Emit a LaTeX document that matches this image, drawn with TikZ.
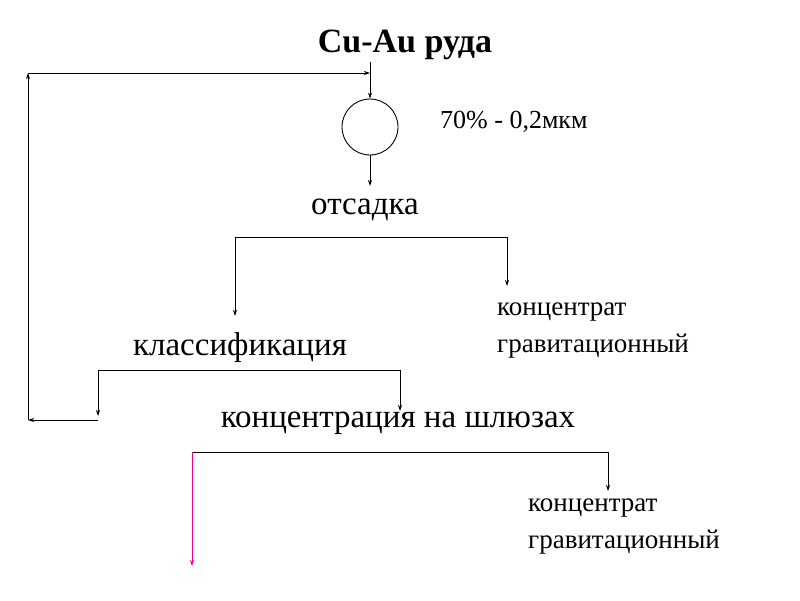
\documentclass[tikz,border=0pt]{standalone}
\usepackage{fontspec}
\setmainfont{Liberation Serif}
\usetikzlibrary{arrows.meta}
\begin{document}
\begin{tikzpicture}[x=1pt,y=-1pt,
  ln/.style={line width=0.9pt,-{Stealth[length=6pt,width=4pt]}},
  plain/.style={line width=0.9pt},
  big/.style={font=\rmfamily\fontsize{33}{38}\selectfont,inner sep=0pt},
  mid/.style={font=\rmfamily\fontsize{27}{37}\selectfont,inner sep=0pt,align=left,anchor=west}]
\useasboundingbox (0,0) rectangle (800,600);
\node[inner sep=0pt,font=\rmfamily\bfseries\fontsize{34}{38}\selectfont] (ore) at (405,45) {Cu-Au руда};
\node[draw,circle,line width=0.9pt,minimum size=56pt,inner sep=0pt] (mill) at (370,127) {};
\node[inner sep=0pt,anchor=west,font=\rmfamily\fontsize{26}{30}\selectfont] (pct) at (440,122) {70\% - 0,2мкм};
\node[big] (jig) at (365,210) {отсадка};
\node[mid] (c1) at (497,331) {концентрат\\гравитационный};
\node[big] (cls) at (240,348) {классификация};
\node[big] (sl) at (398,423) {концентрация на шлюзах};
\node[mid] (c2) at (528,527) {концентрат\\гравитационный};
\coordinate (top) at (370,73);
\coordinate (tl) at (28,73);
\coordinate (bl) at (28,420);
\draw[ln] (370,62) -- (mill.north);
\draw[ln] (mill.south) -- (370,186);
\draw[ln] (bl) -- (tl);
\draw[ln] (tl) -- (top);
\draw[plain] (235,237) -- (507,237);
\draw[ln] (235,237) -- (235,316);
\draw[ln] (507,237) -- (507,286);
\draw[plain] (98,370) -- (400,370);
\draw[ln] (98,370) -- (98,416);
\draw[ln] (400,370) -- (400,411);
\draw[ln] (98,420) -- (bl);
\draw[plain] (192,452) -- (608,452);
\draw[ln] (608,452) -- (608,491);
\draw[ln,magenta] (192,452) -- (192,566);
\end{tikzpicture}
\end{document}
